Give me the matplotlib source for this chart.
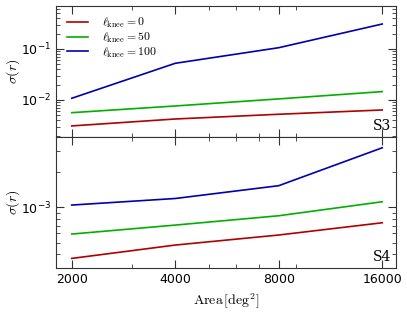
import matplotlib
matplotlib.use("Agg")
import matplotlib.pyplot as plt
from matplotlib.ticker import FixedLocator, FixedFormatter, NullFormatter

plt.rcParams['mathtext.fontset'] = 'cm'
plt.rcParams['font.family'] = ['DejaVu Sans']

area = [2000, 4000, 8000, 16000]
area_labels = ['2000', '4000', '8000', '16000']
knees = [0, 50, 100]
colors = ['#b00000', '#00b000', '#0000b0']

s3_knee0 = [0.0031, 0.00424, 0.00525, 0.00637]
s3_knee50 = [0.00564, 0.00763, 0.0105, 0.0146]
s3_knee100 = [0.0108, 0.0524, 0.106, 0.309]

s4_knee0 = [3.67e-4, 4.77e-4, 5.81e-4, 7.39e-4]
s4_knee50 = [5.92e-4, 7.06e-4, 8.48e-4, 1.116e-3]
s4_knee100 = [1.046e-3, 1.19e-3, 1.53e-3, 3.22e-3]

fig = plt.figure(figsize=(4.07, 3.12), dpi=100)
ax1 = fig.add_axes([0.1376, 0.5609, 0.8354, 0.4208])
ax2 = fig.add_axes([0.1376, 0.141, 0.8354, 0.4199], sharex=ax1)

for ax, data, name in [(ax1, [s3_knee0, s3_knee50, s3_knee100], 'S3'),
                       (ax2, [s4_knee0, s4_knee50, s4_knee100], 'S4')]:
    for k, d, c in zip(knees, data, colors):
        ax.plot(area, d, color=c, lw=1.2, label=r'$\ell_{\rm knee}=%d$' % k)
    ax.set_xscale('log')
    ax.set_yscale('log')
    ax.set_ylabel(r'$\sigma(r)$', fontsize=10)
    ax.yaxis.set_label_coords(-0.10, 0.5)
    ax.text(0.985, 0.03, name, transform=ax.transAxes, ha='right', va='bottom',
            fontsize=10, family='serif', math_fontfamily='cm')
    ax.tick_params(which='both', direction='in', right=True, top=True, labelsize=9,
                   color='#333333')
    ax.tick_params(which='major', length=6, width=0.8)
    ax.tick_params(which='minor', length=3, width=0.6)
    for sp in ax.spines.values():
        sp.set_color('#333333')

ax1.set_xlim(1800, 17550)
ax1.set_ylim(0.00188, 0.706)
ax2.set_ylim(0.000304, 0.00398)

ax2.xaxis.set_major_locator(FixedLocator(area))
ax2.xaxis.set_major_formatter(FixedFormatter(area_labels))
ax2.xaxis.set_minor_formatter(NullFormatter())
plt.setp(ax1.get_xticklabels(), visible=False)
ax2.set_xlabel(r'$\mathrm{Area}\,[\mathrm{deg}^2]$', fontsize=10)

ax1.legend(loc='upper left', frameon=False, fontsize=8.5, handlelength=1.8,
           handletextpad=1.2, borderaxespad=0.5, labelspacing=0.05)

fig.savefig('out.png', dpi=100)
